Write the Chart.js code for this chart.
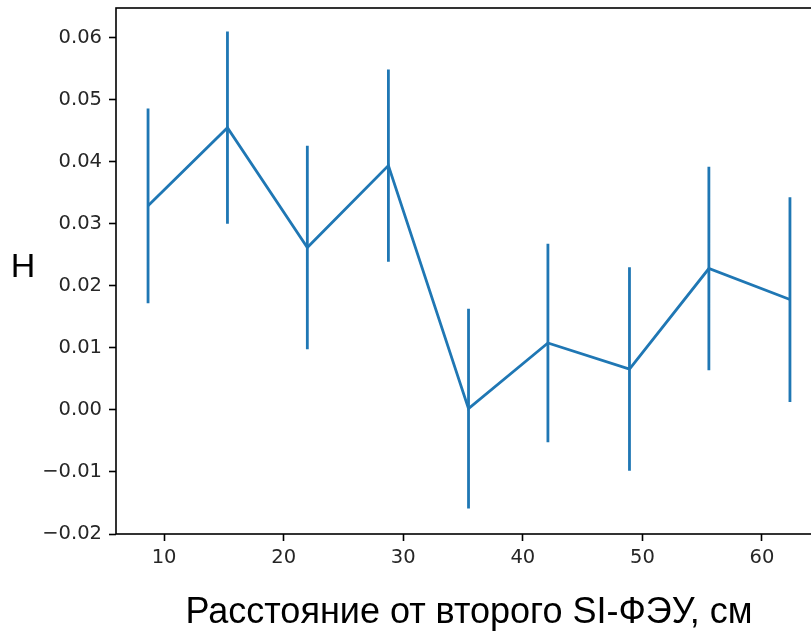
<!DOCTYPE html>
<html>
<head>
<meta charset="utf-8">
<script src="https://cdn.jsdelivr.net/npm/chart.js@4"></script>
<style>
    html, body { margin: 0; padding: 0; background: #fff; overflow: hidden; }
    canvas { display: block; }
</style>
</head>
<body>
<canvas id="errChart" width="822" height="639"></canvas>
<script>
// distance from second SiPM, cm
const distances = [8.66, 15.30, 21.98, 28.76, 35.46, 42.10, 48.92, 55.56, 62.34];
// measured H and its error
const hValues = [0.0329, 0.0455, 0.0262, 0.0394, 0.0002, 0.0108, 0.0066, 0.0228, 0.0178];
const hErrors = [0.0157, 0.0155, 0.0164, 0.0155, 0.0161, 0.0160, 0.0164, 0.0164, 0.0165];

const xTicks = [10, 20, 30, 40, 50, 60];
const yTicks = [-0.02, -0.01, 0.00, 0.01, 0.02, 0.03, 0.04, 0.05, 0.06];

const lineColor = "#1f77b4";
const axisColor = "#000000";
const tickFont = { family: "DejaVu Sans", size: 19.5 };

document.addEventListener("DOMContentLoaded", function () {
    const ctx = document.getElementById("errChart").getContext("2d");

    const mainLine = distances.map((d, i) => ({ x: d, y: hValues[i] }));

    // vertical error bars, separated by null gaps
    const errLines = [];
    distances.forEach((d, i) => {
        errLines.push({ x: d, y: hValues[i] - hErrors[i] });
        errLines.push({ x: d, y: hValues[i] + hErrors[i] });
        errLines.push({ x: d, y: null });
    });

    // frame round the plot area and horizontal "H" label
    const framePlugin = {
        id: "frame",
        afterDraw(chart) {
            const a = chart.chartArea;
            const c = chart.ctx;
            c.save();
            c.strokeStyle = axisColor;
            c.lineWidth = 1.6;
            c.strokeRect(a.left, a.top, a.right - a.left, a.bottom - a.top);
            c.fillStyle = "#000";
            c.font = "34px 'Liberation Sans'";
            c.textAlign = "center";
            c.textBaseline = "alphabetic";
            c.fillText("H", 23, 277);
            c.restore();
        },
    };

    const config = {
        type: "line",
        data: {
            datasets: [
                {
                    data: errLines,
                    borderColor: lineColor,
                    borderWidth: 2.8,
                    pointRadius: 0,
                    spanGaps: false,
                    tension: 0,
                },
                {
                    data: mainLine,
                    borderColor: lineColor,
                    borderWidth: 2.8,
                    pointRadius: 0,
                    tension: 0,
                },
            ],
        },
        options: {
            responsive: false,
            animation: false,
            layout: { padding: { top: 8, right: 0, bottom: 4, left: 0 } },
            plugins: {
                legend: { display: false },
                tooltip: { enabled: false },
            },
            scales: {
                x: {
                    type: "linear",
                    min: 5.98,
                    max: 65.02,
                    afterBuildTicks: (scale) => {
                        scale.ticks = xTicks.map((v) => ({ value: v }));
                    },
                    afterFit: (scale) => {
                        scale.height = 101;
                        scale.paddingLeft = 0;
                        scale.paddingRight = 0;
                    },
                    border: { display: false },
                    grid: {
                        drawOnChartArea: false,
                        drawTicks: true,
                        tickLength: 7,
                        tickWidth: 1.6,
                        tickColor: axisColor,
                    },
                    ticks: {
                        font: tickFont,
                        color: "#262626",
                        padding: 5,
                        maxRotation: 0,
                        callback: (v) => String(v),
                    },
                    title: {
                        display: true,
                        text: "Расстояние от второго SI-ФЭУ, см",
                        font: { family: "Liberation Sans", size: 36 },
                        color: "#000",
                        padding: 0,
                    },
                },
                y: {
                    type: "linear",
                    min: -0.02,
                    max: 0.0648,
                    afterBuildTicks: (scale) => {
                        scale.ticks = yTicks.map((v) => ({ value: v }));
                    },
                    afterFit: (scale) => {
                        scale.width = 116;
                        scale.paddingTop = 0;
                        scale.paddingBottom = 0;
                    },
                    border: { display: false },
                    grid: {
                        drawOnChartArea: false,
                        drawTicks: true,
                        tickLength: 7,
                        tickWidth: 1.6,
                        tickColor: axisColor,
                    },
                    ticks: {
                        font: tickFont,
                        color: "#262626",
                        padding: 7,
                        callback: (v) =>
                            v < 0 ? "\u2212" + Math.abs(v).toFixed(2) : v.toFixed(2),
                    },
                },
            },
        },
        plugins: [framePlugin],
    };

    new Chart(ctx, config);
});
</script>
</body>
</html>
